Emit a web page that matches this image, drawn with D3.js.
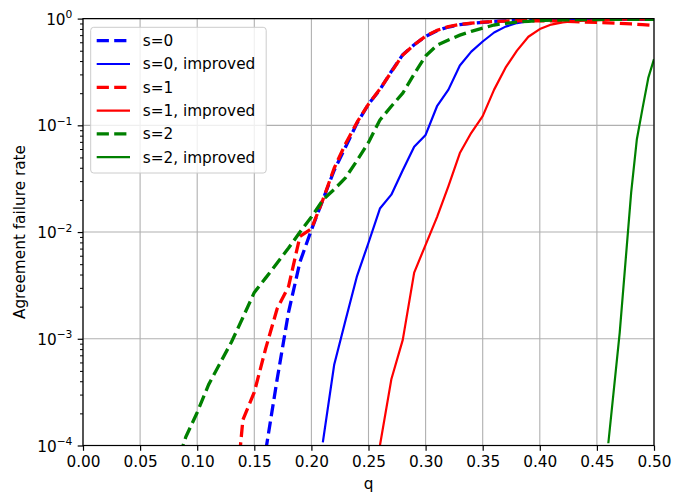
<!DOCTYPE html>
<html><head><meta charset="utf-8">
<script src="https://cdn.jsdelivr.net/npm/d3@7"></script>
<style>body{margin:0;background:#fff} svg{display:block;font-family:"DejaVu Sans",sans-serif}</style>
</head><body><svg id="c" width="673" height="496"></svg>
<script>
// ---- data ----
const xTicks = [0, 0.05, 0.10, 0.15, 0.20, 0.25, 0.30, 0.35, 0.40, 0.45, 0.50];
const xTickLabels = ["0.00","0.05","0.10","0.15","0.20","0.25","0.30","0.35","0.40","0.45","0.50"];
const yTicks = [1e-4, 1e-3, 1e-2, 1e-1, 1];
const yTickExps = ["\u22124", "\u22123", "\u22122", "\u22121", "0"];

const qS0 = [0.16,0.17,0.18,0.19,0.20,0.21,0.22,0.23,0.24,0.25,0.26,0.27,0.28,0.29,0.30,0.31,0.32,0.33,0.34,0.35,0.36,0.37,0.38,0.39,0.40,0.41,0.42,0.43,0.44,0.45,0.46,0.47,0.48,0.49,0.50];
const vS0 = [8.91e-5,4.17e-4,1.78e-3,5.25e-3,0.01047,0.0200,0.0380,0.0631,0.105,0.158,0.216,0.320,0.459,0.569,0.682,0.771,0.834,0.877,0.904,0.923,0.940,0.951,0.959,0.966,0.973,0.977,0.977,0.980,0.980,0.982,0.982,0.982,0.984,0.984,0.984];

const qS0i = [0.21,0.22,0.23,0.24,0.25,0.26,0.27,0.28,0.29,0.30,0.31,0.32,0.33,0.34,0.35,0.36,0.37,0.38,0.39,0.40,0.41,0.42,0.43,0.44,0.45,0.46,0.47,0.48,0.49,0.50];
const vS0i = [1.07e-4,5.75e-4,1.51e-3,3.89e-3,7.94e-3,0.0166,0.0224,0.0380,0.0631,0.0813,0.151,0.216,0.363,0.490,0.610,0.741,0.841,0.908,0.944,0.966,0.977,0.982,0.984,0.986,0.988,0.988,0.990,0.990,0.990,0.990];

const qS1 = [0.13,0.14,0.15,0.16,0.17,0.18,0.19,0.20,0.21,0.22,0.23,0.24,0.25,0.26,0.27,0.28,0.29,0.30,0.31,0.32,0.33,0.34,0.35,0.36,0.37,0.38,0.39,0.40,0.41,0.42,0.43,0.44,0.45,0.46,0.47,0.48,0.49,0.50];
const vS1 = [1.26e-5,1.74e-4,3.16e-4,8.13e-4,1.91e-3,3.09e-3,9.12e-3,0.01072,0.0200,0.0398,0.0676,0.107,0.158,0.219,0.316,0.457,0.569,0.684,0.776,0.841,0.881,0.908,0.927,0.940,0.948,0.955,0.955,0.955,0.951,0.944,0.938,0.929,0.920,0.912,0.902,0.891,0.877,0.861];

const qS1i = [0.26,0.27,0.28,0.29,0.30,0.31,0.32,0.33,0.34,0.35,0.36,0.37,0.38,0.39,0.40,0.41,0.42,0.43,0.44,0.45,0.46,0.47,0.48,0.49,0.50];
const vS1i = [1.0e-4,4.17e-4,9.77e-4,4.17e-3,7.59e-3,0.0138,0.0269,0.0550,0.0851,0.122,0.216,0.347,0.501,0.676,0.798,0.879,0.923,0.944,0.955,0.966,0.973,0.977,0.977,0.977,0.977];

const qS2 = [0.08,0.09,0.10,0.11,0.12,0.13,0.14,0.15,0.16,0.17,0.18,0.19,0.20,0.21,0.22,0.23,0.24,0.25,0.26,0.27,0.28,0.29,0.30,0.31,0.32,0.33,0.34,0.35,0.36,0.37,0.38,0.39,0.40,0.41,0.42,0.43,0.44,0.45,0.46,0.47,0.48,0.49,0.50];
const vS2 = [5.62e-5,1.20e-4,2.04e-4,3.72e-4,5.89e-4,9.33e-4,1.58e-3,2.72e-3,3.72e-3,5.13e-3,7.08e-3,0.0100,0.0138,0.0200,0.0251,0.0324,0.0468,0.0692,0.112,0.151,0.200,0.302,0.447,0.562,0.631,0.700,0.759,0.813,0.871,0.902,0.927,0.944,0.959,0.966,0.973,0.977,0.977,0.980,0.982,0.982,0.982,0.984,0.984];

const qS2i = [0.46,0.47,0.48,0.485,0.49,0.495,0.50];
const vS2i = [1.05e-4,1.15e-3,0.0234,0.0741,0.145,0.278,0.417];

const seriesNames = ["s=0", "s=0, improved", "s=1", "s=1, improved", "s=2", "s=2, improved"];
const seriesColors = ["#0000ff", "#0000ff", "#ff0000", "#ff0000", "#008000", "#008000"];
const seriesDashed = [true, false, true, false, true, false];
const seriesQ = [qS0, qS0i, qS1, qS1i, qS2, qS2i];
const seriesV = [vS0, vS0i, vS1, vS1i, vS2, vS2i];

// ---- layout ----
const L = 83, R = 654, T = 18.6, B = 445.5;
const FS = 15.3;
const svg = d3.select("#c");
const x = d3.scaleLinear().domain([0, 0.5]).range([L, R]);
const y = d3.scaleLog().domain([1e-4, 1]).range([B, T]);

svg.append("defs").append("clipPath").attr("id", "clip")
  .append("rect").attr("x", L).attr("y", T).attr("width", R - L).attr("height", B - T);

// grid
const grid = svg.append("g").attr("stroke", "#b0b0b0").attr("stroke-width", 1.1);
xTicks.forEach(t => grid.append("line").attr("x1", x(t)).attr("x2", x(t)).attr("y1", T).attr("y2", B));
yTicks.forEach(t => grid.append("line").attr("x1", L).attr("x2", R).attr("y1", y(t)).attr("y2", y(t)));

// lines
const line = d3.line().x(d => x(d[0])).y(d => y(d[1]));
const lg = svg.append("g").attr("clip-path", "url(#clip)");
seriesQ.forEach((qs, i) => {
  const pts = qs.map((q, j) => [q, seriesV[i][j]]);
  lg.append("path").attr("d", line(pts)).attr("fill", "none")
    .attr("stroke", seriesColors[i])
    .attr("stroke-width", seriesDashed[i] ? 3.3 : 2.2)
    .attr("stroke-dasharray", seriesDashed[i] ? "12.2,5.3" : null)
    .attr("stroke-linejoin", "round");
});

// axes
const xAxis = d3.axisBottom(x).tickValues(xTicks).tickFormat((d, i) => xTickLabels[i]).tickSize(5.3).tickPadding(5.3);
const gx = svg.append("g").attr("transform", `translate(0,${B})`).call(xAxis);
gx.select(".domain").remove();
gx.selectAll("line").attr("stroke", "#000").attr("stroke-width", 1.2);
gx.selectAll("text").attr("font-size", FS).attr("font-family", "DejaVu Sans").attr("fill", "#000");

const minorTicks = [];
for (let e = -4; e < 0; e++) for (let m = 2; m <= 9; m++) minorTicks.push(m * Math.pow(10, e));
const yAxisMinor = d3.axisLeft(y).tickValues(minorTicks).tickFormat("").tickSize(3);
const gym = svg.append("g").attr("transform", `translate(${L},0)`).call(yAxisMinor);
gym.select(".domain").remove();
gym.selectAll("line").attr("stroke", "#000").attr("stroke-width", 1);

const yAxis = d3.axisLeft(y).tickValues(yTicks).tickFormat("").tickSize(5.3);
const gy = svg.append("g").attr("transform", `translate(${L},0)`).call(yAxis);
gy.select(".domain").remove();
gy.selectAll("line").attr("stroke", "#000").attr("stroke-width", 1.2);
gy.selectAll(".tick").each(function(d, i) {
  const t = d3.select(this).append("text").attr("x", -10.6).attr("y", 5.5)
    .attr("text-anchor", "end").attr("font-size", FS).attr("fill", "#000").attr("font-family", "DejaVu Sans");
  t.append("tspan").text("10");
  t.append("tspan").attr("dy", -6.5).attr("font-size", FS * 0.7).text(yTickExps[i]);
});

// spines
svg.append("rect").attr("x", L).attr("y", T).attr("width", R - L).attr("height", B - T)
  .attr("fill", "none").attr("stroke", "#000").attr("stroke-width", 1.2);

// labels
svg.append("text").attr("x", (L + R) / 2).attr("y", 489).attr("text-anchor", "middle")
  .attr("font-size", FS).text("q");
svg.append("text").attr("transform", `translate(25,${(T + B) / 2}) rotate(-90)`).attr("text-anchor", "middle")
  .attr("font-size", FS).text("Agreement failure rate");

// legend
const leg = svg.append("g");
leg.append("rect").attr("x", 90.7).attr("y", 27.3).attr("width", 175.5).attr("height", 145.7).attr("rx", 3)
  .attr("fill", "#fff").attr("fill-opacity", 0.8).attr("stroke", "#cccccc").attr("stroke-width", 1);
seriesNames.forEach((n, i) => {
  const cy = 40.7 + i * 23.3;
  leg.append("line").attr("x1", 96.7).attr("x2", 130).attr("y1", cy).attr("y2", cy)
    .attr("stroke", seriesColors[i]).attr("stroke-width", seriesDashed[i] ? 3.3 : 2.2)
    .attr("stroke-dasharray", seriesDashed[i] ? "12.2,5.3" : null);
  leg.append("text").attr("x", 142.7).attr("y", cy + 5.4).attr("font-size", FS).text(n);
});
</script></body></html>
